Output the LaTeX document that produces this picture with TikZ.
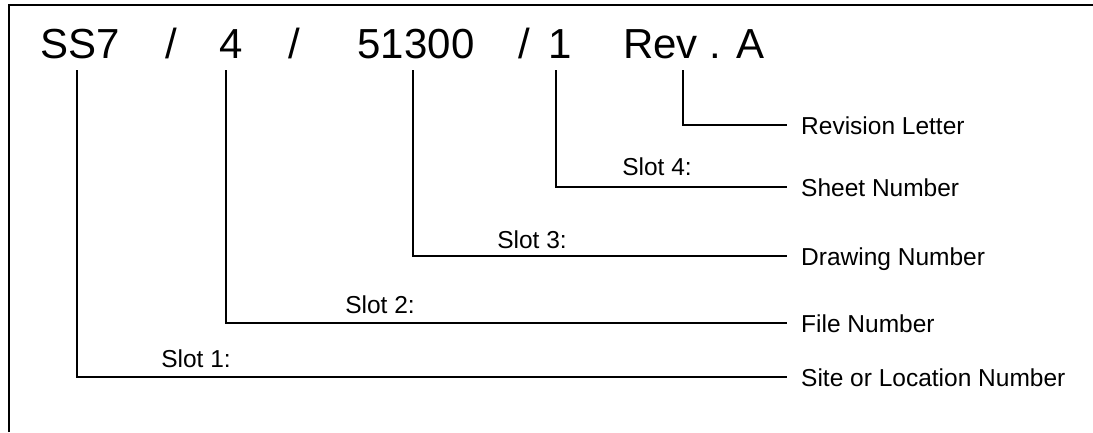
\documentclass[tikz,border=0pt]{standalone}
\usepackage{fontspec}
\setmainfont{Liberation Sans}

\begin{document}
\begin{tikzpicture}[x=1pt, y=-1pt,
        code/.style={inner sep=0pt, anchor=base, font=\fontsize{42}{42}\selectfont},
        slot/.style={inner sep=0pt, anchor=base, font=\fontsize{24.5}{25}\selectfont},
        field/.style={inner sep=0pt, inner xsep=14pt, anchor=west, text height=18pt, text depth=0pt, font=\fontsize{24.5}{25}\selectfont},
        lead/.style={line width=1.6pt}]
        \useasboundingbox (0,0) rectangle (1093,432);
        % Frame
        \draw[line width=2pt] (9,432) -- (9,5) -- (1093,5);

        % Code
        \node[code, anchor=base west] (site) at (40,58) {SS7};
        \node[code] (slasha) at (171,58) {/};
        \node[code] (file) at (231,58) {4};
        \node[code] (slashb) at (294,58) {/};
        \node[code] (drawing) at (416,58) {51300};
        \node[code] (slashc) at (524,58) {/};
        \node[code] (sheet) at (560,58) {1};
        \node[code, anchor=base west] (rev) at (623,58) {Rev . A};

        % Labels
        \node[field] (revl) at (787,125) {Revision Letter};
        \node[field] (sheetl) at (787,187) {Sheet Number};
        \node[field] (drawingl) at (787,256) {Drawing Number};
        \node[field] (filel) at (787,323) {File Number};
        \node[field] (sitel) at (787,377) {Site or Location Number};

        % Drop points
        \coordinate (revdrop) at (683,70);
        \coordinate (sheetdrop) at (556,70);
        \coordinate (drawingdrop) at (413,70);
        \coordinate (filedrop) at (226,70);
        \coordinate (sitedrop) at (77,70);

        % Leaders
        \draw[lead] (revdrop) |- (revl.west);
        \draw[lead] (sheetdrop) |- (sheetl.west);
        \draw[lead] (drawingdrop) |- (drawingl.west);
        \draw[lead] (filedrop) |- (filel.west);
        \draw[lead] (sitedrop) |- (sitel.west);

        % Slots
        \node[slot] (slotd) at (657,175) {Slot 4:};
        \node[slot] (slotc) at (532,248) {Slot 3:};
        \node[slot] (slotb) at (380,313) {Slot 2:};
        \node[slot] (slota) at (196,367) {Slot 1:};
\end{tikzpicture}
\end{document}
